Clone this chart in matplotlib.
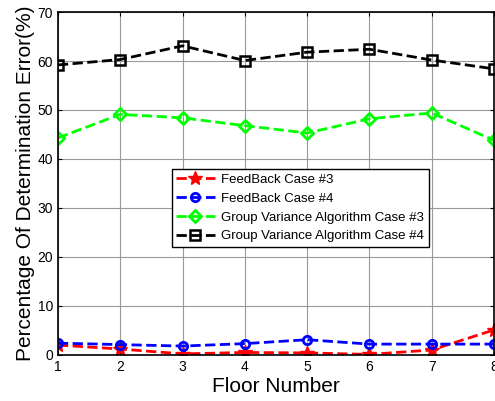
import numpy as np
import matplotlib
matplotlib.use("Agg")
import matplotlib.pyplot as plt

plt.rcParams["font.family"] = ["Liberation Sans", "DejaVu Sans"]

floors = [1, 2, 3, 4, 5, 6, 7, 8]
fb_case3 = [2.0, 1.2, 0.2, 0.5, 0.4, 0.1, 1.0, 5.1]
fb_case4 = [2.4, 2.1, 1.8, 2.3, 3.1, 2.2, 2.2, 2.2]
gva_case3 = [44.3, 49.1, 48.4, 46.8, 45.3, 48.2, 49.4, 43.8]
gva_case4 = [59.2, 60.3, 63.1, 60.1, 61.8, 62.4, 60.2, 58.4]

fig = plt.figure(figsize=(4.95, 4.01), dpi=100)
ax = fig.add_axes([0.117, 0.115, 0.881, 0.855])

ax.plot(floors, fb_case3, "r--", marker="*", ms=10, lw=2, label="FeedBack Case #3")
ax.plot(floors, fb_case4, "b--", marker="o", ms=6, mfc="none", mew=2, lw=2,
        label="FeedBack Case #4")
ax.plot(floors, gva_case3, "--", color="#00ff00", marker="D", ms=6, mfc="none", mew=2,
        lw=2, label="Group Variance Algorithm Case #3")
ax.plot(floors, gva_case4, "k--", marker="s", ms=7.5, mfc="none", mew=1.8, lw=2,
        label="Group Variance Algorithm Case #4")

ax.set_xlim(1, 8)
ax.set_ylim(0, 70)
ax.set_xticks(floors)
ax.set_yticks(np.arange(0, 71, 10))
ax.grid(True, color="#999999", lw=0.8)
ax.tick_params(direction="in", top=True, right=True, labelsize=10, length=3)
for s in ax.spines.values():
    s.set_linewidth(1.2)

ax.set_xlabel("Floor Number", fontsize=15, labelpad=2)
ax.set_ylabel("Percentage Of Determination Error(%)", fontsize=15, labelpad=2)

leg = ax.legend(loc="upper left", bbox_to_anchor=(0.261, 0.542),
                fontsize=9.5, fancybox=False, framealpha=1,
                edgecolor="black", borderpad=0.35, borderaxespad=0,
                labelspacing=0.5, handlelength=2.9, handletextpad=0.5)
leg.get_frame().set_linewidth(1.0)

fig.savefig("out.png", dpi=100)
